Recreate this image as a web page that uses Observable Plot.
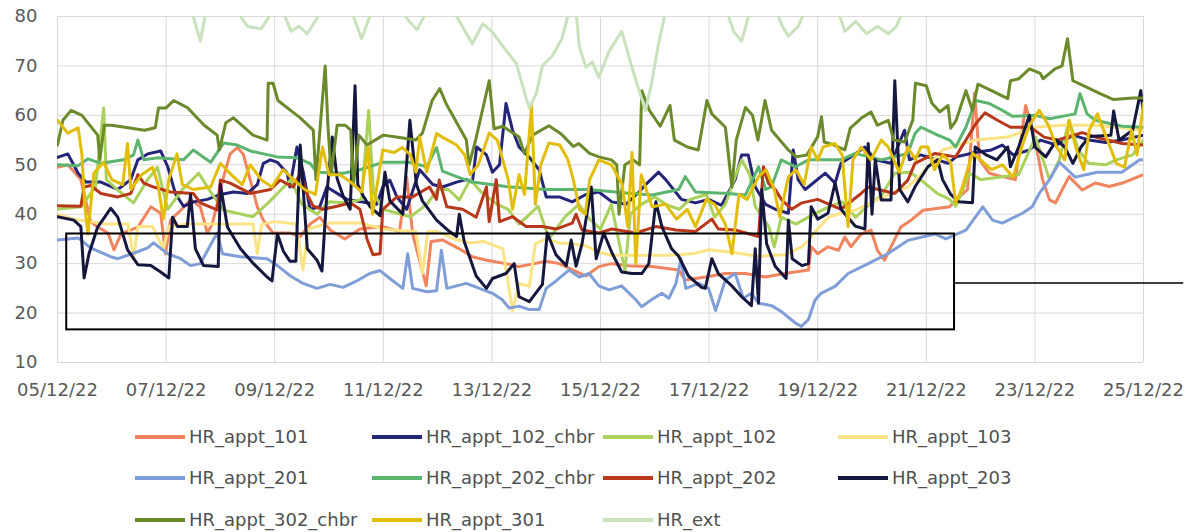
<!DOCTYPE html>
<html><head><meta charset="utf-8">
<script src="https://cdn.jsdelivr.net/npm/d3@7"></script>
<script src="https://cdn.jsdelivr.net/npm/@observablehq/plot@0.6"></script>
<style>
body{margin:0;background:#fff;font-family:"DejaVu Sans",sans-serif;}
#wrap{position:relative;width:1187px;height:532px;overflow:hidden;}
#chart{position:absolute;left:0;top:0;}
.leg{position:absolute;display:flex;align-items:center;font-size:18px;color:#505050;white-space:nowrap;height:22px;line-height:22px;}
.sw{width:50px;height:4px;margin-right:4px;}
</style></head><body>
<div id="wrap"><div id="chart"></div><div id="legend"></div></div>
<script>
// Series names (legend order) and colours
const seriesNames = ["HR_appt_101","HR_appt_102_chbr","HR_appt_102","HR_appt_103","HR_appt_201","HR_appt_202_chbr","HR_appt_202","HR_appt_203","HR_appt_302_chbr","HR_appt_301","HR_ext"];
const seriesColors = ["#F0845F","#242479","#A9D15B","#FCE385","#7F9ED8","#5BB56E","#B7381B","#15173F","#6B8A2B","#E2BD0A","#C9E2BD"];

// Data: [days since 05/12/22 00:00, relative humidity %]
const appt101 = [[0,49.5],[0.19,50],[0.43,47],[0.61,38.5],[0.74,37.4],[0.93,36.2],[1.04,32.8],[1.17,36],[1.48,37.4],[1.72,41.5],[1.9,40.2],[1.99,32],[2.08,38.8],[2.27,40.8],[2.45,42.9],[2.63,41.5],[2.76,36.2],[2.85,38],[3.06,47.6],[3.18,52.2],[3.31,53.5],[3.42,52.2],[3.55,46.9],[3.68,41.5],[3.79,38.8],[3.97,36.2],[4.28,36.2],[4.47,35.5],[4.65,38],[4.83,39.4],[5.02,36.8],[5.29,35],[5.57,37],[5.99,37.5],[6.3,36.5],[6.43,47.5],[6.54,36],[6.79,25.5],[6.88,34.5],[7.09,34.8],[7.4,33],[7.64,31.4],[7.9,30.7],[8.26,30],[8.5,29.4],[9.0,30.5],[9.24,30],[9.73,27.5],[9.97,29.4],[10.21,30],[10.58,29.5],[10.95,29.4],[11.44,28.7],[11.56,26.7],[11.93,27.3],[12.3,28],[12.67,28],[13.04,27.3],[13.39,28],[13.83,28.7],[13.88,33.4],[14.0,32],[14.19,33.4],[14.38,32.7],[14.5,35.4],[14.61,33.4],[14.8,36],[14.98,36.8],[15.1,32.7],[15.23,30.7],[15.35,33.4],[15.53,37.4],[15.72,38.8],[15.94,40.8],[16.43,41.5],[16.54,42.8],[16.76,45],[16.89,64.5],[16.98,51],[17.16,48.3],[17.4,47.6],[17.64,47],[17.83,62],[18.01,54.6],[18.14,47],[18.27,42.9],[18.38,42.3],[18.5,44.9],[18.63,47.6],[18.87,44.9],[19.11,46.3],[19.37,45.6],[19.61,46.3],[20,48]];
const appt102chbr = [[0,51.5],[0.19,52.2],[0.38,48.3],[0.52,46.5],[0.8,46.5],[1.11,45],[1.35,47],[1.48,51],[1.66,52.2],[1.9,52.8],[2.03,49.6],[2.17,44.2],[2.32,41.6],[2.5,42.5],[2.76,43],[3.0,44],[3.24,44.5],[3.5,44.2],[3.68,46],[3.79,50.3],[3.92,51],[4.05,50.5],[4.23,48.3],[4.28,45.5],[4.41,53.6],[4.53,48.3],[4.65,41],[4.83,41.5],[4.96,45.5],[5.33,43],[5.7,42.3],[5.88,42],[5.99,45.5],[6.12,46.9],[6.25,43.5],[6.43,41],[6.67,49],[6.91,46],[7.09,45.5],[7.35,46.5],[7.53,47],[7.64,46.5],[7.72,53.6],[7.9,52],[8.01,48.5],[8.14,50],[8.26,62.4],[8.38,57],[8.5,53.6],[8.69,51.5],[8.87,49],[9.0,43.5],[9.24,43.5],[9.48,42.5],[9.73,44],[9.97,44.5],[10.21,42.5],[10.47,42],[10.71,44.5],[10.83,46],[11.07,48.5],[11.2,47],[11.49,43],[11.75,42.3],[11.99,43],[12.23,41.8],[12.48,47],[12.6,52],[12.72,52],[12.85,45.5],[13.04,42],[13.22,41],[13.46,40.2],[13.55,53],[13.64,47],[13.77,45],[14.14,48.3],[14.32,46.3],[14.43,50.3],[14.61,51.6],[14.87,53.6],[15.06,51],[15.35,50.3],[15.6,57],[15.69,51],[15.9,52],[16.2,51],[16.4,50.3],[16.55,51.6],[16.9,52.5],[17.2,53],[17.4,54],[17.6,52],[17.9,53],[18.1,55],[18.4,54],[18.7,56],[19.0,55],[19.3,54.5],[19.6,55],[20,56]];
const appt102 = [[0,41],[0.43,41.5],[0.7,45.5],[0.85,61.5],[0.9,47],[1.1,45],[1.4,42.3],[1.66,47],[1.84,49.5],[2.03,41],[2.3,45],[2.6,48.3],[2.85,44],[3.06,40.8],[3.31,40.2],[3.6,39.5],[3.9,42.5],[4.05,44.2],[4.3,47],[4.5,42],[4.78,40],[5.0,42.5],[5.3,42.3],[5.6,43],[5.73,61],[5.82,44.2],[6.0,41],[6.25,40.2],[6.5,39.5],[6.8,42],[7.0,45],[7.2,45],[7.4,42.9],[7.6,47],[7.8,44.5],[8.1,42],[8.3,41],[8.5,38],[8.85,41.6],[9.05,35],[9.35,39.5],[9.6,42],[9.8,39],[10.0,37],[10.2,42],[10.45,28.5],[10.55,40],[10.75,42],[11.0,43.5],[11.2,42],[11.45,41],[11.65,43],[11.95,44],[12.1,39.4],[12.3,42],[12.48,47.6],[12.6,51],[12.75,48],[12.85,41.6],[13.1,37.5],[13.2,33.4],[13.33,39.4],[13.6,38],[13.83,39.4],[14.2,41.5],[14.45,42.5],[14.7,39.4],[14.95,42],[15.17,43.7],[15.42,48.3],[15.7,48.5],[15.95,46.5],[16.2,44.2],[16.43,43],[16.54,41.6],[16.8,48.3],[17.0,47],[17.4,47.6],[17.7,48],[18.01,55.6],[18.27,47],[18.45,51],[18.63,59],[18.8,53],[18.99,50.3],[19.3,50],[19.5,51],[19.8,52],[20,55]];
const appt103 = [[0,40],[0.3,39],[0.6,38.5],[0.9,38],[1.3,38],[1.4,31],[1.48,37.5],[1.75,37.5],[1.95,33],[2.05,37.5],[2.4,38],[2.9,38],[3.31,38],[3.6,38],[3.68,32],[3.76,38],[4.0,38.5],[4.4,38],[4.52,28.7],[4.62,37],[5.0,38.2],[5.6,38.2],[6.0,37],[6.3,36.7],[6.6,36.5],[6.72,28],[6.82,36.5],[7.0,36.5],[7.3,35],[7.6,34.2],[7.85,34.5],[8.2,33],[8.38,20.5],[8.5,26],[8.69,25.4],[8.8,34],[9.0,35],[9.24,34.2],[9.5,34],[9.73,33.6],[9.97,32.3],[10.21,31.7],[10.7,31.7],[11.2,31.7],[11.7,32],[12.0,32.8],[12.48,32.2],[12.9,31.5],[13.4,31.8],[13.7,33.4],[13.83,34.7],[14.0,37],[14.2,39.4],[14.43,40.2],[14.69,40.8],[15.17,43.3],[15.42,44.5],[15.66,45.5],[15.9,48],[16.3,53],[16.6,54],[16.9,55],[17.5,55.6],[18.0,57.6],[18.5,58],[19.1,58],[19.6,57.5],[20,57]];
const appt201 = [[0,34.8],[0.38,35.2],[0.61,33.2],[0.98,31.4],[1.11,31],[1.4,32.1],[1.66,33.2],[1.77,34.2],[2.03,32],[2.27,31],[2.45,29.6],[2.63,30],[2.94,36.2],[3.04,32],[3.37,31.4],[3.86,31],[4.05,29.6],[4.29,27.5],[4.52,26],[4.78,25],[5.02,25.8],[5.26,25.2],[5.51,26.5],[5.75,28],[5.94,28.6],[6.12,27],[6.36,25],[6.45,32],[6.54,25],[6.8,24.3],[6.98,24.5],[7.07,32.7],[7.17,25],[7.53,26],[7.77,25],[8.01,24],[8.19,22.7],[8.32,21],[8.5,21.4],[8.69,20.7],[8.87,20.7],[9.0,25],[9.18,26.5],[9.42,28.7],[9.61,27.3],[9.79,28],[9.97,25.5],[10.16,24.7],[10.39,25.5],[10.65,22.7],[10.76,21.3],[10.94,22.7],[11.13,24],[11.26,23],[11.39,26],[11.48,31],[11.57,25],[11.81,26],[11.99,25],[12.12,20.5],[12.3,26.7],[12.48,28],[12.63,23],[12.78,24],[12.91,22],[13.15,21.5],[13.33,20.3],[13.59,18],[13.7,17.3],[13.83,18.7],[13.95,22.6],[14.06,24],[14.32,25.4],[14.56,28],[14.93,30],[15.29,32],[15.66,34.7],[16.16,36],[16.36,35],[16.73,36.8],[17.04,41.5],[17.22,38.8],[17.4,38.2],[17.77,40.2],[17.95,41.5],[18.08,44.2],[18.27,47],[18.45,50.5],[18.6,49],[18.74,47.5],[19.15,48.5],[19.6,48.5],[19.93,51],[20,51]];
const appt202chbr = [[0,50],[0.38,49.8],[0.56,51.2],[0.8,50.3],[1.22,51],[1.4,52],[1.48,55],[1.59,51],[1.84,51.4],[2.32,51],[2.5,53],[2.82,50.5],[3.06,54.4],[3.31,54],[3.55,52.8],[4.05,51.6],[4.41,51.4],[4.65,50.3],[4.78,48.5],[5.26,48.3],[5.57,49],[5.99,50.5],[6.48,50.5],[6.8,49.6],[6.98,53.5],[7.09,48.7],[7.35,47.6],[7.64,46.5],[8.26,45.6],[9.0,45],[9.79,45],[10.47,44.3],[10.95,43.9],[11.44,45],[11.56,47.6],[11.75,44.5],[12.35,44.2],[12.67,43.9],[12.91,49.6],[13.04,45],[13.15,45.6],[13.33,51],[13.59,49.6],[13.83,51],[14.43,51],[14.69,52.3],[15.17,51],[15.66,52.3],[15.79,56.3],[15.9,57.6],[16.21,56],[16.43,55],[16.54,53.6],[16.73,57.6],[16.91,63],[17.16,62.4],[17.4,61],[17.59,59.8],[18.01,60],[18.27,59.3],[18.74,60.3],[18.83,64.4],[18.96,60.3],[19.11,59],[19.61,57.8],[20,57.6]];
const appt202 = [[0,41.7],[0.43,41.6],[0.49,45.5],[0.61,45.8],[0.8,44.2],[1.11,43.5],[1.35,44.2],[1.48,48],[1.59,46.3],[1.77,45.5],[2.08,44.5],[2.5,44.2],[2.63,42.3],[2.94,40.9],[3.0,46.9],[3.18,46.3],[3.55,44.2],[3.92,45],[4.1,46.9],[4.34,45.5],[4.47,48.3],[4.6,44],[4.71,41.6],[4.89,41],[5.15,41.6],[5.39,42.3],[5.57,41],[5.7,35],[5.81,31.8],[5.94,32],[5.99,41],[6.25,43.5],[6.54,43.5],[6.85,45.5],[6.98,43],[7.03,46.9],[7.17,41.5],[7.46,41],[7.71,39.4],[7.9,45.5],[7.95,38.5],[8.08,47],[8.14,38.5],[8.38,39.5],[8.63,37.5],[8.93,37.5],[9.18,37],[9.48,38.2],[9.55,40],[9.66,36.8],[9.97,36.2],[10.21,37],[10.65,36.2],[11.02,37.5],[11.39,36.8],[11.75,36.5],[12.05,39],[12.17,37],[12.48,36.8],[12.91,35.5],[13.0,49.6],[13.09,46.3],[13.22,45],[13.33,43],[13.52,41],[13.71,42.3],[14.0,43],[14.43,41],[14.8,44.2],[14.93,45.5],[15.42,44.2],[15.66,46.9],[15.79,50.3],[16.16,52.3],[16.54,51.6],[16.73,55],[16.91,58.3],[17.08,60.5],[17.31,59],[17.55,57.6],[17.92,57.6],[18.17,55.6],[18.41,55],[18.87,56.5],[19.15,55.5],[19.61,54.3],[20,54]];
const appt203 = [[0,39.5],[0.3,38.8],[0.43,37.5],[0.49,27.1],[0.58,32],[0.74,37.4],[0.98,41.2],[1.11,39.4],[1.29,32.8],[1.48,29.8],[1.72,29.6],[1.9,28.3],[2.05,27.1],[2.12,39.4],[2.21,37.5],[2.39,37.5],[2.45,44],[2.54,33],[2.69,29.6],[2.96,29.4],[3.0,46],[3.13,37.4],[3.37,33],[3.61,30],[3.86,27.3],[3.95,26.5],[4.05,36],[4.16,32.5],[4.28,30.5],[4.39,30.5],[4.47,54],[4.6,33],[4.78,30.7],[4.87,28.5],[4.96,44],[5.06,55.6],[5.15,47.2],[5.26,43.7],[5.39,41],[5.48,66],[5.53,46],[5.63,43.7],[5.75,41.6],[5.94,39.7],[6.03,48.5],[6.12,42.7],[6.36,40],[6.49,59],[6.61,46],[6.72,42.7],[6.98,38.8],[7.22,36.5],[7.35,35.5],[7.4,40],[7.49,34.5],[7.71,27.5],[7.9,25],[8.01,27],[8.26,28],[8.41,30],[8.5,23.3],[8.69,22.3],[8.93,25.8],[9.02,36.2],[9.18,31.8],[9.37,29.6],[9.46,34.8],[9.55,29.5],[9.66,34],[9.83,45.5],[9.92,31],[10.06,36.2],[10.21,32.2],[10.39,28.3],[10.58,28],[10.76,28],[10.89,30],[11.02,42.5],[11.13,37.5],[11.31,33],[11.44,31.5],[11.62,27.5],[11.86,25.2],[11.93,25],[12.05,31],[12.17,28],[12.42,25.5],[12.6,23.3],[12.78,21.5],[12.85,33],[12.91,22],[12.97,45],[13.06,34],[13.22,29.4],[13.42,27],[13.46,38.8],[13.53,31],[13.71,29.6],[13.83,30],[13.88,41.5],[14.0,39],[14.19,40.2],[14.32,46.3],[14.43,41],[14.69,37.6],[14.87,37],[14.93,54.3],[15.0,40],[15.06,51],[15.17,42.9],[15.35,42.9],[15.42,67],[15.51,45],[15.66,42.5],[15.79,45.5],[16.03,49.6],[16.21,51],[16.3,47],[16.45,44],[16.6,42.5],[16.85,42.3],[16.9,53.6],[17.1,52],[17.3,51],[17.5,53.6],[17.55,49.6],[17.7,53.6],[17.9,60],[18.0,53.6],[18.2,51.6],[18.4,55],[18.55,53.6],[18.7,50.3],[18.85,53.6],[19.0,55.7],[19.4,56],[19.45,60.9],[19.55,55],[19.8,57],[19.95,65],[20,60]];
const appt302chbr = [[0,54],[0.1,59],[0.25,61],[0.45,60],[0.74,56],[0.78,51],[0.86,58],[1.0,58],[1.3,57.5],[1.6,57],[1.8,57.5],[1.86,61.5],[2.0,61.5],[2.14,63],[2.4,61.5],[2.7,58],[2.94,56],[2.98,53],[3.1,58.5],[3.24,59.5],[3.6,56],[3.86,55],[3.88,66.5],[3.97,66.5],[4.06,63],[4.47,59.5],[4.71,57],[4.76,47],[4.84,58],[4.93,70],[4.98,58],[5.04,48],[5.15,58],[5.3,58],[5.4,57],[5.45,46],[5.55,56],[5.7,54],[6.0,56],[6.3,55.5],[6.6,55],[6.72,56.4],[6.9,63],[7.04,65.4],[7.16,62.3],[7.53,55],[7.58,50],[7.7,55],[7.95,67],[8.04,57.3],[8.2,57.8],[8.5,55.6],[8.6,52.3],[8.75,56],[9.05,57.9],[9.27,56.3],[9.5,53.7],[9.6,54.3],[9.8,52.3],[9.97,51.6],[10.2,51],[10.3,50],[10.34,40],[10.45,50],[10.6,51],[10.72,50],[10.76,65],[10.9,61],[11.1,57.8],[11.28,62],[11.36,55],[11.6,53.6],[11.8,53],[11.96,63],[12.05,60.3],[12.3,57.6],[12.42,45.5],[12.5,55],[12.67,61.6],[12.8,60],[12.9,55],[13.03,63],[13.15,57],[13.46,53],[13.6,51.6],[13.8,52],[14.0,55.7],[14.07,59.7],[14.12,54.6],[14.3,54],[14.5,53],[14.6,57.4],[14.8,59.4],[14.98,60.7],[15.1,58],[15.3,59],[15.4,55],[15.6,54.6],[15.75,59],[15.8,66.5],[16.0,66],[16.1,62.5],[16.25,60.7],[16.4,62],[16.45,57.4],[16.55,59],[16.73,65],[16.85,61],[16.95,66.3],[17.2,65],[17.5,63.4],[17.55,67],[17.7,67.4],[17.9,69.4],[18.1,68.5],[18.15,67.4],[18.37,69.4],[18.5,70],[18.6,75.5],[18.7,67],[18.95,65.7],[19.2,64.4],[19.45,63.2],[19.8,63.5],[20,63.5]];
const appt301 = [[0,59],[0.19,56.4],[0.38,57.5],[0.45,52],[0.5,42],[0.56,36],[0.67,48.3],[0.85,50.5],[1.0,47],[1.2,46],[1.29,54.3],[1.35,45],[1.55,48],[1.75,49.5],[1.85,46],[1.95,39],[2.05,47],[2.2,52.2],[2.3,46],[2.5,45],[2.82,45.5],[3.0,50.3],[3.2,48],[3.4,46],[3.55,50],[3.75,47],[3.95,45.5],[4.15,49],[4.35,47],[4.55,45],[4.75,44],[4.88,53.6],[5.0,48],[5.2,48],[5.4,46.5],[5.6,44.5],[5.72,53.6],[5.8,40],[5.99,53],[6.2,52.5],[6.35,53.5],[6.5,52],[6.6,48.5],[6.67,55.6],[6.8,48.5],[6.98,56.3],[7.1,55.5],[7.35,54],[7.5,52],[7.6,48],[7.75,50],[7.95,56.4],[8.1,55],[8.3,47],[8.38,41],[8.5,48],[8.6,44],[8.73,62],[8.8,42],[8.9,50],[9.05,54.4],[9.25,54],[9.4,51],[9.5,47],[9.61,41],[9.72,40],[9.8,47],[9.97,51],[10.2,50],[10.4,46],[10.5,37.5],[10.58,52.5],[10.65,30],[10.75,48],[10.95,41.5],[11.2,42],[11.4,39],[11.6,41],[11.75,37.5],[11.95,43],[12.1,42],[12.3,38],[12.42,32],[12.55,44],[12.7,43],[12.91,47.6],[13.05,49],[13.2,45],[13.3,39.5],[13.46,47.5],[13.6,49],[13.75,46],[13.88,53.6],[14.0,51],[14.1,53.6],[14.32,54.3],[14.45,52],[14.56,37.5],[14.65,51],[14.8,53.6],[14.98,51],[15.17,55],[15.3,53.6],[15.5,48.5],[15.66,53.6],[15.8,51],[15.9,53.6],[16.03,53.6],[16.15,49],[16.3,52],[16.45,50.5],[16.54,42.3],[16.65,45],[16.85,52.3],[17.0,51],[17.2,49],[17.4,50],[17.6,47.5],[17.77,54],[17.9,58],[18.08,61],[18.25,58],[18.4,53.6],[18.55,51],[18.63,59],[18.75,53.6],[18.9,49],[19.0,57],[19.15,60.3],[19.3,56],[19.5,50.3],[19.65,49.5],[19.78,57],[19.88,52],[20,62.5]];
const hrExt = [[0,88],[1,90],[2,86],[2.45,82],[2.63,75],[2.75,82],[3.2,84],[3.37,80],[3.5,78],[3.75,77.5],[3.9,80],[4.05,83],[4.19,80],[4.3,77],[4.45,78],[4.6,76.5],[4.8,80],[5.1,85],[5.45,80],[5.6,75.5],[5.75,80],[6.2,83],[6.48,79],[6.62,77.3],[6.75,80],[7.1,82],[7.35,80],[7.64,74.5],[7.83,78.5],[8.0,77],[8.27,73],[8.45,70.5],[8.63,63.5],[8.69,61.5],[8.82,64.5],[8.93,70],[9.11,72],[9.29,75.5],[9.42,81],[9.55,81],[9.61,74],[9.73,69.7],[9.85,70.8],[9.97,67.7],[10.16,73],[10.39,77],[10.58,69.7],[10.71,65],[10.83,61],[10.94,66.5],[11.07,74.6],[11.2,81],[11.8,86],[12.3,82],[12.45,77],[12.6,75],[12.75,81],[13.2,82],[13.35,78],[13.46,76],[13.64,78],[13.8,82],[14.35,82],[14.5,77],[14.7,79],[14.9,76.5],[15.1,78],[15.3,76.5],[15.45,78],[15.6,82],[16.5,90],[18,92],[20,90]];

// Axis ticks
const yTicks = [10,20,30,40,50,60,70,80];
const xTickDays = [0,2,4,6,8,10,12,14,16,18,20];

// Annotation (black frame + connector), in data units
const boxDays = [0.17, 16.52];
const boxValues = [16.6, 36.0];
const connectorDays = [16.52, 20.74];
const connectorValue = [26.1];

const seriesData = [appt101, appt102chbr, appt102, appt103, appt201, appt202chbr, appt202, appt203, appt302chbr, appt301, hrExt];

const start = Date.UTC(2022, 11, 5);
const toDate = t => new Date(start + t * 864e5);

const rows = [];
seriesNames.forEach((name, i) => {
  seriesData[i].forEach(([t, v]) => rows.push({series: name, date: toDate(t), value: v}));
});
const xTicks = xTickDays.map(toDate);

const chart = Plot.plot({
  width: 1187,
  height: 405,
  marginLeft: 57,
  marginRight: 44,
  marginTop: 16,
  marginBottom: 43,
  style: {fontFamily: '"DejaVu Sans", sans-serif', fontSize: "18px", color: "#595959", background: "white", overflow: "visible"},
  x: {type: "utc", domain: [toDate(0), toDate(20)]},
  y: {domain: [10, 80]},
  color: {domain: seriesNames, range: seriesColors},
  marks: [
    Plot.gridY(yTicks, {stroke: "#d9d9d9", strokeOpacity: 1, strokeWidth: 1}),
    Plot.gridX(xTicks, {stroke: "#d9d9d9", strokeOpacity: 1, strokeWidth: 1}),
    Plot.axisY(yTicks, {tickSize: 0, tickPadding: 20, fontSize: 18, label: null}),
    Plot.axisX(xTicks, {tickSize: 0, tickPadding: 21, fontSize: 18, label: null, tickFormat: d3.utcFormat("%d/%m/%y")}),
    Plot.line(rows, {x: "date", y: "value", z: "series", stroke: "series", strokeWidth: 3, strokeLinejoin: "round", clip: true}),
    Plot.rect([{x1: toDate(boxDays[0]), x2: toDate(boxDays[1]), y1: boxValues[0], y2: boxValues[1]}],
      {x1: "x1", x2: "x2", y1: "y1", y2: "y2", fill: "none", stroke: "#000", strokeWidth: 2}),
    Plot.ruleY(connectorValue, {x1: toDate(connectorDays[0]), x2: toDate(connectorDays[1]), stroke: "#000", strokeWidth: 1.5})
  ]
});
document.getElementById("chart").appendChild(chart);

// Legend (4 columns x 3 rows)
const legendCols = [135, 372, 603, 838];
const legendRows = [437, 478, 520];
const legend = document.getElementById("legend");
seriesNames.forEach((name, i) => {
  const item = document.createElement("div");
  item.className = "leg";
  item.style.left = legendCols[i % 4] + "px";
  item.style.top = (legendRows[Math.floor(i / 4)] - 11) + "px";
  const sw = document.createElement("span");
  sw.className = "sw";
  sw.style.background = seriesColors[i];
  const label = document.createElement("span");
  label.textContent = name;
  item.appendChild(sw);
  item.appendChild(label);
  legend.appendChild(item);
});
</script>
</body></html>
